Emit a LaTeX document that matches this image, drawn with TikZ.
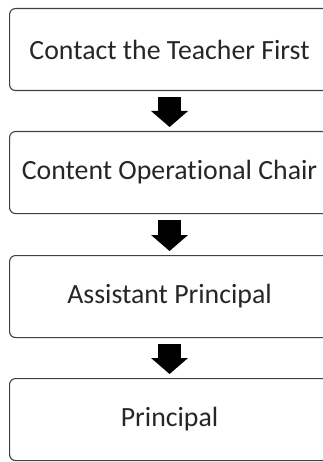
\documentclass[tikz,border=0pt]{standalone}
\usepackage{fontspec}
\setmainfont[Ligatures={NoCommon}]{Carlito}
\usetikzlibrary{arrows.meta,positioning}
\begin{document}
\begin{tikzpicture}[x=1bp,y=-1bp,
  stepbox/.style={draw=black!75, line width=1.1bp, rounded corners=6bp,
    minimum width=320bp, minimum height=82bp, inner sep=0pt,
    text=black!85, font=\fontsize{27.8bp}{32bp}\selectfont, anchor=north west},
  blockarrow/.style={line width=23bp, black,
    -{Triangle[width=37bp,length=16bp,line width=0pt]},
    shorten <=6bp, shorten >=4bp}]
\useasboundingbox (0,0) rectangle (322,462);
\node[stepbox] (b1) at (9,8) {Contact the Teacher First};
\node[stepbox] (b2) at (9,131) {Content Operational Chair};
\node[stepbox] (b3) at (9,255) {Assistant Principal};
\node[stepbox] (b4) at (9,378) {Principal};
\draw[blockarrow] (b1.south) -- (b2.north);
\draw[blockarrow] (b2.south) -- (b3.north);
\draw[blockarrow] (b3.south) -- (b4.north);
\end{tikzpicture}
\end{document}
